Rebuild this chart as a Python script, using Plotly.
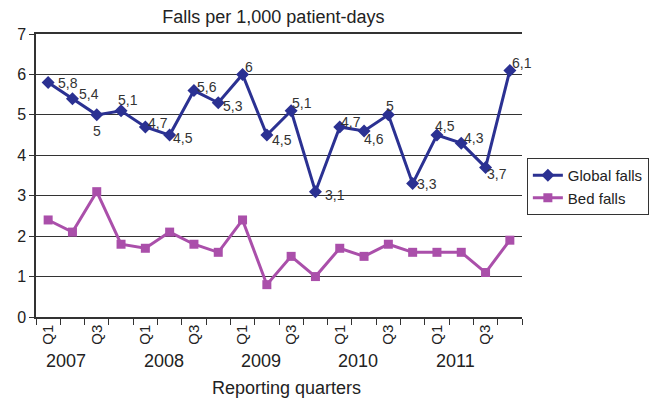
import plotly.graph_objects as go

quarters = ["Q1", "Q2", "Q3", "Q4"] * 5
years = ["2007", "2008", "2009", "2010", "2011"]
global_falls = [5.8, 5.4, 5.0, 5.1, 4.7, 4.5, 5.6, 5.3, 6.0, 4.5, 5.1, 3.1, 4.7, 4.6, 5.0, 3.3, 4.5, 4.3, 3.7, 6.1]
bed_falls = [2.4, 2.1, 3.1, 1.8, 1.7, 2.1, 1.8, 1.6, 2.4, 0.8, 1.5, 1.0, 1.7, 1.5, 1.8, 1.6, 1.6, 1.6, 1.1, 1.9]

# label offsets (pixels, right / down) for the global-falls data labels
label_dx = [20, 17, 0, 7, 13, 13, 13, 15, 6, 15, 11, 20, 11, 10, 2, 14, 8, 13, 11, 12]
label_dy = [0, -5, 16, -11, -4, 3, -4, 3, -7, 5, -8, 3, -5, 8, -9, 0, -9, -5, 7, -7]

x = list(range(len(global_falls)))
labels = [("%g" % v).replace(".", ",") for v in global_falls]

BLUE = "#2B3192"
MAG = "#AA4FAA"
TXT = "#222222"
FONT = "Liberation Sans, Arial, sans-serif"

fig = go.Figure()
fig.add_trace(go.Scatter(
    x=x, y=global_falls, name="Global falls", mode="lines+markers",
    line=dict(color=BLUE, width=3), marker=dict(symbol="diamond", size=10, color=BLUE),
    cliponaxis=False))
fig.add_trace(go.Scatter(
    x=x, y=bed_falls, name="Bed falls", mode="lines+markers",
    line=dict(color=MAG, width=3), marker=dict(symbol="square", size=9, color=MAG)))

for xi, yi, t, dx, dy in zip(x, global_falls, labels, label_dx, label_dy):
    fig.add_annotation(x=xi, y=yi, xref="x", yref="y", text=t, showarrow=False,
                       xshift=dx, yshift=-dy, font=dict(size=14, color="#333333", family=FONT))

tickvals = [i for i, q in enumerate(quarters) if q in ("Q1", "Q3")]
ticktext = [quarters[i] for i in tickvals]

for k, yr in enumerate(years):
    fig.add_annotation(x=4 * k + 0.75, y=0, xref="x", yref="paper", yshift=-44,
                       text=yr, showarrow=False, font=dict(size=18, color=TXT, family=FONT),
                       yanchor="middle")

fig.add_annotation(x=0.516, y=0, xref="paper", yref="paper", yshift=-71,
                   text="Reporting quarters", showarrow=False,
                   font=dict(size=18, color=TXT, family=FONT), yanchor="middle")

fig.update_layout(
    width=654, height=403,
    margin=dict(l=36, r=132, t=34, b=86, autoexpand=False),
    paper_bgcolor="white", plot_bgcolor="white",
    font=dict(family=FONT, color=TXT),
    title=dict(text="Falls per 1,000 patient-days", x=0.418, xanchor="center",
               y=1 - 17 / 403, yanchor="middle", font=dict(size=18, color=TXT)),
    legend=dict(x=1.01, y=0.562, xanchor="left", yanchor="top", bordercolor="#333333",
                borderwidth=1, font=dict(size=15, color=TXT), tracegroupgap=0,
                itemwidth=30),
    showlegend=True,
)
fig.update_xaxes(
    range=[-0.5, 19.5], tickvals=tickvals, ticktext=ticktext, tickangle=-90,
    ticks="", showgrid=False, zeroline=False, showline=True, linecolor="#333333",
    linewidth=1.5, mirror=True, tickfont=dict(size=15, color=TXT), automargin=False,
    minor=dict(tickvals=[i - 0.5 for i in range(21)], ticks="outside", ticklen=6,
               tickcolor="#333333", showgrid=False),
)
fig.update_yaxes(
    range=[0, 7], dtick=1, showgrid=True, gridcolor="#333333", gridwidth=1.2,
    zeroline=False, showline=True, linecolor="#333333", linewidth=1.5,
    ticks="outside", ticklen=5, tickcolor="#333333", automargin=False,
    tickfont=dict(size=16, color=TXT),
)

fig.write_html("out.html", config={"displayModeBar": False},
               post_script="document.body.style.margin='0';")
